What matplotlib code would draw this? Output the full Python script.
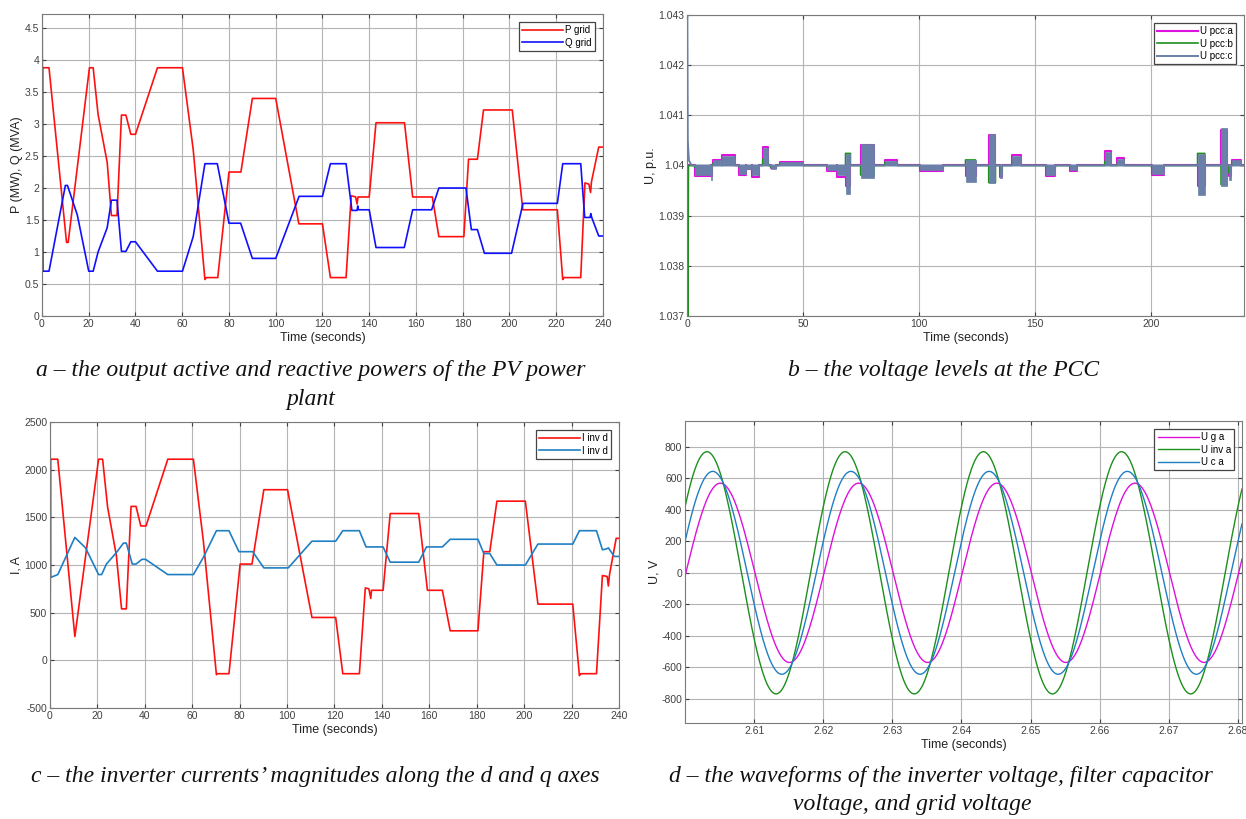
"""Four-panel PV plant simulation figure (powers, PCC voltage, inverter currents, waveforms)."""
import numpy as np
import matplotlib
matplotlib.use("Agg")
import matplotlib.pyplot as plt
from matplotlib.ticker import FormatStrFormatter

# ---- panel a: grid active / reactive power ----
p_time = [0, 0.3, 3, 10.5, 11.2, 20.3, 21.9, 24, 27.9, 29.7, 32.1, 34, 35.9, 38, 40,
          49.4, 60.1, 64.7, 69.7, 70.3, 75.2, 80, 85.1, 90, 100, 109.9, 120, 123.4,
          130.1, 132.3, 134.2, 134.8, 135.2, 140, 142.9, 155.1, 158.6, 167, 169.8,
          180.5, 182.5, 186.3, 188.9, 201.2, 205.7, 220.5, 222.8, 223.3, 230.5,
          232.3, 234, 234.7, 235.1, 238.2, 240]
p_grid = [0, 3.88, 3.88, 1.15, 1.15, 3.88, 3.88, 3.15, 2.4, 1.57, 1.57, 3.14, 3.14, 2.84, 2.84,
          3.88, 3.88, 2.6, 0.57, 0.6, 0.6, 2.25, 2.25, 3.4, 3.4, 1.44, 1.44, 0.6,
          0.6, 1.88, 1.86, 1.75, 1.86, 1.86, 3.02, 3.02, 1.86, 1.86, 1.24,
          1.24, 2.45, 2.45, 3.22, 3.22, 1.66, 1.66, 0.57, 0.6, 0.6,
          2.08, 2.06, 1.93, 2.1, 2.64, 2.64]
q_time = [0, 0.05, 0.4, 3, 10, 10.9, 15.1, 20, 21.9, 24, 27.9, 29.7, 32.1, 34, 35.9, 38, 40,
          49.4, 60.1, 64.7, 69.7, 75, 80, 85, 90, 100, 110, 120, 123.4, 130.1, 132.6,
          134.8, 135.1, 135.4, 140, 142.9, 155, 158.6, 166.7, 169.8, 181.4, 183.7,
          186.3, 189.3, 200.9, 205.8, 220.5, 222.8, 230.5, 232.2, 234.5, 234.8,
          235.2, 238.2, 240]
q_grid = [0, 4.9, 0.7, 0.7, 2.04, 2.04, 1.58, 0.7, 0.7, 1.0, 1.38, 1.81, 1.81, 1.01, 1.01, 1.16, 1.16,
          0.7, 0.7, 1.24, 2.38, 2.38, 1.45, 1.45, 0.9, 0.9, 1.87, 1.87, 2.38, 2.38, 1.65,
          1.65, 1.72, 1.66, 1.66, 1.07, 1.07, 1.66, 1.66, 2.0, 2.0, 1.35,
          1.35, 0.98, 0.98, 1.76, 1.76, 2.38, 2.38, 1.54, 1.54, 1.6,
          1.54, 1.25, 1.25]

# ---- panel b: PCC voltage, disturbance episodes ----
ev_start = [3.3, 10.3, 11.0, 15.0, 22.5, 25.3, 28.0, 32.6, 36.0, 39.9, 60.5, 64.5, 68.3, 74.8,
            85.2, 100.4, 120.0, 130.0, 134.8, 140.1, 154.8, 165.2, 180.0, 185.4, 200.2,
            220.0, 230.1, 233.5, 235.0]
ev_end = [10.3, 10.8, 15.0, 20.6, 25.3, 28.0, 30.8, 35.0, 38.5, 50.0, 64.5, 68.3, 70.4, 80.6,
          90.6, 110.4, 124.3, 132.9, 135.8, 143.7, 158.7, 168.1, 182.5, 188.3, 205.5,
          223.1, 232.6, 234.2, 238.6]
ev_low = [1.03981, 1.03971, 1.0400, 1.0400, 1.03984, 1.03993, 1.03981, 1.0400, 1.03993, 1.0400,
          1.0399, 1.03981, 1.03943, 1.03975, 1.0400, 1.03991, 1.03967, 1.03965, 1.03975,
          1.0400, 1.03981, 1.0399, 1.0400, 1.0400, 1.03984, 1.03941, 1.0396, 1.03971, 1.0400]
ev_high = [1.0400, 1.0400, 1.04010, 1.04019, 1.0400, 1.0400, 1.0400, 1.04035, 1.0400, 1.04006,
           1.0400, 1.0400, 1.04022, 1.04043, 1.04009, 1.0400, 1.0401, 1.04062, 1.0400,
           1.04018, 1.0400, 1.0400, 1.04027, 1.04013, 1.0400, 1.04023, 1.04075, 1.0400, 1.0401]
ev_phase_a = [1.03979, 1.0398, 1.04011, 1.04021, 1.03982, 1.03992, 1.03978, 1.04037, 1.03994,
              1.04007, 1.03989, 1.03977, 1.0396, 1.0404, 1.04011, 1.03989, 1.0398, 1.0406,
              1.03978, 1.0402, 1.03979, 1.03989, 1.04029, 1.04014, 1.03982, 1.0396, 1.0407,
              1.0398, 1.04011]
ev_phase_b = [1.03996, 1.0399, 1.04003, 1.04005, 1.03997, 1.03998, 1.03996, 1.04012, 1.03997,
              1.04003, 1.03996, 1.03995, 1.04024, 1.03981, 1.04006, 1.03996, 1.04011, 1.03966,
              1.03985, 1.04008, 1.03996, 1.03996, 1.04008, 1.04005, 1.03996, 1.04024, 1.03962,
              1.03985, 1.04004]
# start-up transient
start_time_a = [0, 0.3]
start_volt_a = [1.04, 1.04]
start_time_b = [0, 0.1, 0.3, 0.6]
start_volt_b = [1.04, 1.0389, 1.0368, 1.04]
start_time_c = [0, 0.05, 0.3, 0.8, 2]
start_volt_c = [1.04, 1.0432, 1.0405, 1.0401, 1.04]

# ---- panel c: inverter currents ----
id_time = [0, 0.3, 3.3, 10.5, 20.5, 22.2, 24.3, 28, 30.2, 32.2, 34.2, 36.3, 38.3, 40.5, 49.7,
           60.5, 64.7, 70.2, 70.5, 75.5, 80.2, 85.2, 90.2, 100.2, 110.5, 120.5, 123.5, 130.5,
           133, 134.5, 135.3, 135.6, 140.5, 143.5, 155.5, 159.2, 165.5, 168.8, 180.5, 183,
           185.5, 188.5, 200.5, 205.8, 220.5, 223.3, 223.8, 230.5, 233, 235, 235.5, 236,
           238.8, 240]
i_d = [-500, 2110, 2110, 250, 2110, 2110, 1610, 1100, 540, 540, 1615, 1615, 1410, 1410, 2110,
       2110, 1250, -150, -140, -140, 1010, 1010, 1790, 1790, 450, 450, -140, -140,
       760, 750, 650, 735, 735, 1540, 1540, 735, 735, 310, 310, 1140,
       1140, 1670, 1670, 590, 590, -160, -140, -140, 890, 880, 780, 900,
       1280, 1280]
iq_time = [0, 0.05, 0.3, 3.3, 10.5, 15, 20.5, 21.8, 23.8, 28, 31, 32.2, 34.7, 36.3, 38.8, 40.3,
           49.7, 60.5, 64.7, 70.2, 75.5, 79.7, 85.5, 90.2, 100.5, 110.5, 120.5, 123.5, 130.5,
           133.3, 140.5, 143.5, 155.5, 158.8, 165.5, 168.8, 180.5, 183, 185.5, 188.5, 200.5,
           205.8, 220.5, 223.3, 230.5, 233, 234.8, 235.5, 238, 240]
i_q = [0, 2600, 870, 900, 1290, 1180, 900, 900, 1010, 1130, 1230, 1230, 1010, 1010, 1060, 1060,
       900, 900, 1080, 1360, 1360, 1140, 1140, 970, 970, 1250, 1250, 1360, 1360,
       1190, 1190, 1030, 1030, 1190, 1190, 1270, 1270, 1120, 1120, 1000, 1000,
       1220, 1220, 1360, 1360, 1160, 1170, 1180, 1090, 1090]

# ---- panel d: phase-a waveforms, amplitude (V) and phase at t = 2.6 s (deg) ----
wave_labels = ["U g a", "U inv a", "U c a"]
wave_amplitude = [570, 770, 645]
wave_phase_deg = [-2, 33, 18]
grid_freq = 50.0

RED, BLUE, MBLUE = "#ff1010", "#1010ff", "#1f7fc4"
MAGENTA, GREEN, SLATE = "#dd10dd", "#1c8f1c", "#6b80a8"
TICK_COLOR = "#404040"


def style_axes(ax, xlabel, ylabel):
    ax.grid(True, color="#b4b4b4", lw=0.8)
    ax.set_axisbelow(True)
    ax.tick_params(direction="in", length=3, labelsize=7.5, colors=TICK_COLOR,
                   top=True, right=True, pad=2)
    for s in ax.spines.values():
        s.set_color("#7a7a7a")
        s.set_linewidth(0.8)
    ax.set_xlabel(xlabel, fontsize=9, color="#222222", labelpad=2)
    ax.set_ylabel(ylabel, fontsize=9, color="#222222", labelpad=1)


def add_legend(ax):
    leg = ax.legend(loc="upper right", fontsize=7, fancybox=False, framealpha=1,
                    edgecolor="#444444", handlelength=4.2, handletextpad=0.2,
                    labelspacing=0.25, borderpad=0.35, borderaxespad=0.8)
    leg.get_frame().set_linewidth(0.9)
    leg.set_zorder(10)
    return leg


def episode_steps(start_t, start_v, levels, base=1.04):
    """Step line made from the start transient followed by each episode level."""
    t, v = list(start_t), list(start_v)
    for t0, t1, lv in zip(ev_start, ev_end, levels):
        t += [t0, t0, t1, t1]
        v += [base, lv, lv, base]
    t.append(240)
    v.append(base)
    return t, v


plt.rcParams["font.family"] = ["Liberation Sans", "DejaVu Sans"]
plt.rcParams["axes.unicode_minus"] = False
fig = plt.figure(figsize=(12.46, 8.19), dpi=100)

# a
ax_a = fig.add_axes([0.0337, 0.6142, 0.4502, 0.3687])
ax_a.plot(p_time, p_grid, color=RED, lw=1.2, label="P grid")
ax_a.plot(q_time, q_grid, color=BLUE, lw=1.2, label="Q grid")
ax_a.set_xlim(0, 240)
ax_a.set_ylim(0, 4.72)
ax_a.set_xticks(np.arange(0, 241, 20))
ax_a.set_yticks(np.arange(0, 4.6, 0.5))
ax_a.yaxis.set_major_formatter(FormatStrFormatter("%g"))
style_axes(ax_a, "Time (seconds)", "P (MW), Q (MVA)")
add_legend(ax_a)

# b
ax_b = fig.add_axes([0.5514, 0.6142, 0.4470, 0.3675])
ta, va = episode_steps(start_time_a, start_volt_a, ev_phase_a)
tb, vb = episode_steps(start_time_b, start_volt_b, ev_phase_b)
ax_b.plot(ta, va, color=MAGENTA, lw=1.5, label="U pcc:a", zorder=2)
ax_b.plot(tb, vb, color=GREEN, lw=1.2, label="U pcc:b", zorder=2.5)
for t0, t1, lo, hi in zip(ev_start, ev_end, ev_low, ev_high):
    ax_b.fill_between([t0, t1], lo, hi, facecolor=SLATE, edgecolor=SLATE, lw=0.5, zorder=3)
ax_b.plot(start_time_c + [240], start_volt_c + [1.04], color=SLATE, lw=1.4,
          label="U pcc:c", zorder=3.5)
ax_b.set_xlim(0, 240)
ax_b.set_ylim(1.037, 1.043)
ax_b.set_xticks(np.arange(0, 201, 50))
ax_b.set_yticks(np.arange(1.037, 1.0431, 0.001))
ax_b.yaxis.set_major_formatter(FormatStrFormatter("%g"))
style_axes(ax_b, "Time (seconds)", "U, p.u.")
add_legend(ax_b)

# c
ax_c = fig.add_axes([0.0401, 0.1355, 0.4567, 0.3492])
ax_c.plot(id_time, i_d, color=RED, lw=1.2, label="I inv d")
ax_c.plot(iq_time, i_q, color=MBLUE, lw=1.2, label="I inv d")
ax_c.set_xlim(0, 240)
ax_c.set_ylim(-500, 2500)
ax_c.set_xticks(np.arange(0, 241, 20))
ax_c.set_yticks(np.arange(-500, 2501, 500))
style_axes(ax_c, "Time (seconds)", "I, A")
add_legend(ax_c)

# d
ax_d = fig.add_axes([0.5498, 0.1172, 0.4470, 0.3687])
t = np.linspace(2.6, 2.6806, 2000)
for lab, amp, ph, col in zip(wave_labels, wave_amplitude, wave_phase_deg, [MAGENTA, GREEN, MBLUE]):
    ax_d.plot(t, amp * np.sin(2 * np.pi * grid_freq * (t - 2.6) + np.deg2rad(ph)),
              color=col, lw=1.0, label=lab)
ax_d.set_xlim(2.6, 2.6806)
ax_d.set_ylim(-955, 965)
ax_d.set_xticks(np.arange(2.61, 2.6805, 0.01))
ax_d.xaxis.set_major_formatter(FormatStrFormatter("%g"))
ax_d.set_yticks(np.arange(-800, 801, 200))
style_axes(ax_d, "Time (seconds)", "U, V")
add_legend(ax_d)

# captions
cap = dict(ha="center", va="center", fontsize=17, style="italic",
           family=["Liberation Serif", "DejaVu Serif"], color="#111111")
fig.text(0.2496, 0.5482, "a – the output active and reactive powers of the PV power", **cap)
fig.text(0.2496, 0.5128, "plant", **cap)
fig.text(0.7576, 0.5482, "b – the voltage levels at the PCC", **cap)
fig.text(0.2528, 0.0525, "c – the inverter currents’ magnitudes along the d and q axes", **cap)
fig.text(0.7552, 0.0525, "d – the waveforms of the inverter voltage, filter capacitor", **cap)
fig.text(0.7320, 0.0171, "voltage, and grid voltage", **cap)

fig.savefig("out.png", dpi=100)
